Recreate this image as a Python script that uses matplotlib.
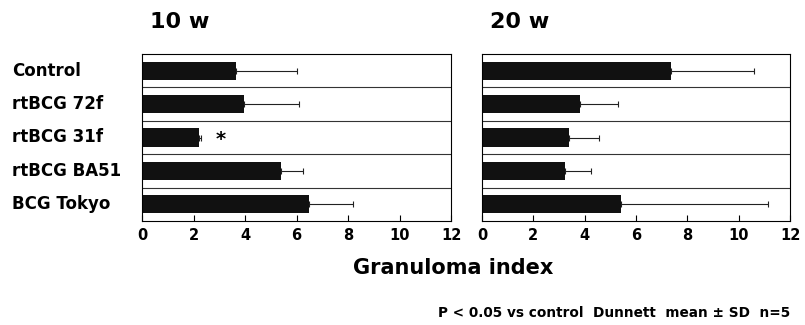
import matplotlib.pyplot as plt

plt.rcParams['font.family'] = ['DejaVu Sans']
plt.rcParams['font.weight'] = 'bold'

groups = ["Control", "rtBCG 72f", "rtBCG 31f", "rtBCG BA51", "BCG Tokyo"]
mean_10w = [3.65, 3.95, 2.2, 5.4, 6.5]
sd_10w = [2.35, 2.15, 0.1, 0.85, 1.7]
mean_20w = [7.35, 3.8, 3.4, 3.25, 5.4]
sd_20w = [3.25, 1.5, 1.15, 1.0, 5.75]
panel_titles = ["10 w", "20 w"]
xticks = [0, 2, 4, 6, 8, 10, 12]

fig = plt.figure(figsize=(8.05, 3.25), dpi=100)
W, H = 805, 325
ax_l = fig.add_axes([142 / W, 1 - 221 / H, 309 / W, 167 / H])
ax_r = fig.add_axes([482 / W, 1 - 221 / H, 308 / W, 167 / H])

ypos = list(range(len(groups)))
for ax, means, sds, title in [(ax_l, mean_10w, sd_10w, panel_titles[0]),
                              (ax_r, mean_20w, sd_20w, panel_titles[1])]:
    ax.barh(ypos, means, height=0.55, color="#111111",
            xerr=[[0] * len(sds), sds],
            error_kw=dict(ecolor="#222222", elinewidth=0.8, capsize=2, capthick=0.8))
    ax.set_xlim(0, 12)
    ax.set_ylim(4.5, -0.5)
    ax.set_xticks(xticks)
    ax.set_xticklabels([str(t) for t in xticks], fontsize=10.5, fontweight="bold")
    ax.tick_params(axis="x", direction="in", length=4, pad=5, width=0.8)
    ax.set_yticks([])
    for y in [0.5, 1.5, 2.5, 3.5]:
        ax.axhline(y, color="#333333", lw=0.8)
    for s in ax.spines.values():
        s.set_linewidth(0.8)
    ax.text(8 / 309, 1.13, title, transform=ax.transAxes, fontsize=16,
            fontweight="bold", ha="left", va="bottom")

for i, g in enumerate(groups):
    ax_l.text(-130 / 309 * 12, i, g, fontsize=12, fontweight="bold",
              ha="left", va="center")

# significance marker
ax_l.text(3.05, 2.05, "*", fontsize=14, fontweight="bold", ha="center", va="center")

fig.text(453 / W, 1 - 268 / H, "Granuloma index", fontsize=15,
         fontweight="bold", ha="center", va="center")
fig.text(790 / W, 1 - 313 / H, "P < 0.05 vs control  Dunnett  mean ± SD  n=5",
         fontsize=9.8, fontweight="bold", ha="right", va="center")

fig.savefig("out.png", dpi=100)
